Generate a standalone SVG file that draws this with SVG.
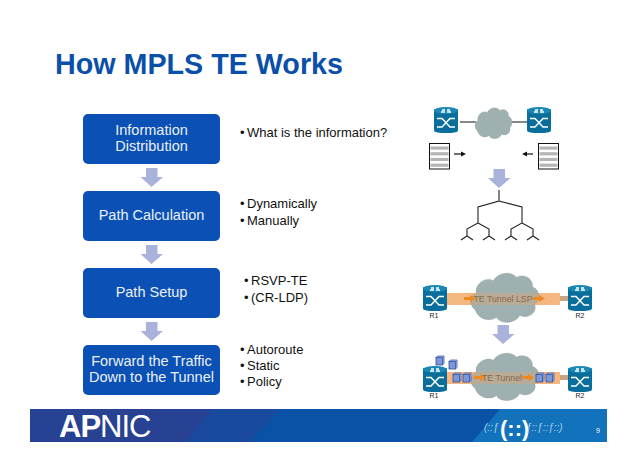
<svg xmlns="http://www.w3.org/2000/svg" width="638" height="451" viewBox="0 0 638 451">
<style>
text{font-family:"Liberation Sans",Arial,sans-serif}
.box{fill:#0b50b4}
.bt{fill:#fff;font-size:14.5px;text-anchor:middle;opacity:.92}
.bl{fill:#111;font-size:13px}
.cl{fill:#9fb0b0;stroke:#86989a;stroke-width:.7}
.ln{stroke:#111;stroke-width:1.2;fill:none}
.tr{stroke:#222;stroke-width:1.1;fill:none}
.tube{fill:#f3b77f}
.ov{fill:#e9a26a;opacity:.35}
.oa{fill:#ee8a22}
.tl{fill:#8a6a4a;font-size:8.8px;text-anchor:middle}
.rl{fill:#222;font-size:7px;text-anchor:middle}
.pk{fill:#7d97d8;stroke:#2f4f9f;stroke-width:.8}
</style>
<defs>
<g id="router">
<rect x="0" y="2" width="24" height="22" rx="1" fill="#0a6e9c"/>
<ellipse cx="12" cy="3.500" rx="12" ry="3.500" fill="#1a88b4"/>
<ellipse cx="12" cy="24" rx="12" ry="2" fill="#0a6e9c"/>
<path d="M3 11.500H8L16 20H21M3 20H8L16 11.500H21M8 3H11M13 5H17M7 5H11M13 3H16" fill="none" stroke="#fff" stroke-width="1.400"/>
</g>
<path id="cloud" d="M8 70C-4 62-2 44 10 40C6 22 28 8 42 16C52 0 76-2 86 10C100 2 118 12 116 28C130 32 132 52 120 60C126 76 106 88 92 80C84 96 56 98 48 84C34 94 12 86 8 70Z"/>
<path id="flow" fill="#a9b2da" d="M5.500 0H17V9H22.500L11 19L0 9H5.500Z"/>
<g id="table">
<rect width="20" height="25.500" fill="#fff" stroke="#111" stroke-width="1"/>
<rect x="1" y="3" width="18" height="3.200" fill="#b5b5b5"/>
<rect x="1" y="8.700" width="18" height="3.200" fill="#b5b5b5"/>
<rect x="1" y="14.400" width="18" height="3.200" fill="#b5b5b5"/>
<rect x="1" y="20.100" width="18" height="3.200" fill="#b5b5b5"/>
</g>
<g id="pkt">
<rect x="0" y="1.500" width="6.500" height="7.500" class="pk"/>
<path d="M0 1.500L1.500 0H8V7.500L6.500 9V1.500Z" fill="#a9bbea" stroke="#2f4f9f" stroke-width=".7"/>
</g>
</defs>

<text x="55" y="74" font-size="28.700" font-weight="bold" fill="#0b50a8" id="title">How MPLS TE Works</text>

<g id="connectors">
<use href="#flow" x="140.500" y="168"/>
<use href="#flow" x="140.500" y="245"/>
<use href="#flow" x="140.500" y="322"/>
<use href="#flow" x="488" y="169"/>
<use href="#flow" x="492" y="325"/>
</g>

<g id="n1"><rect class="box" x="83" y="114" width="137" height="50" rx="5"/><text class="bt" x="151.500" y="135">Information</text><text class="bt" x="151.500" y="151">Distribution</text></g>
<g id="n2"><rect class="box" x="83" y="191" width="137" height="50" rx="5"/><text class="bt" x="151.500" y="220">Path Calculation</text></g>
<g id="n3"><rect class="box" x="83" y="268" width="137" height="50" rx="5"/><text class="bt" x="151.500" y="297">Path Setup</text></g>
<g id="n4"><rect class="box" x="83" y="345" width="137" height="50" rx="5"/><text class="bt" x="151.500" y="366">Forward the Traffic</text><text class="bt" x="151.500" y="382">Down to the Tunnel</text></g>

<g id="l1"><text class="bl" x="240" y="137">•</text><text class="bl" x="247" y="137">What is the information?</text></g>
<g id="l2"><text class="bl" x="240" y="208">•</text><text class="bl" x="247" y="208">Dynamically</text><text class="bl" x="240" y="225">•</text><text class="bl" x="247" y="225">Manually</text></g>
<g id="l3"><text class="bl" x="244" y="285">•</text><text class="bl" x="251" y="285">RSVP-TE</text><text class="bl" x="244" y="302">•</text><text class="bl" x="251" y="302">(CR-LDP)</text></g>
<g id="l4"><text class="bl" x="240" y="354">•</text><text class="bl" x="247" y="354">Autoroute</text><text class="bl" x="240" y="370">•</text><text class="bl" x="247" y="370">Static</text><text class="bl" x="240" y="386">•</text><text class="bl" x="247" y="386">Policy</text></g>

<g id="net1">
<path class="ln" d="M460 122H476M511 122H528"/>
<use href="#cloud" class="cl" transform="translate(475 107) scale(.29 .34)"/>
<use href="#router" transform="translate(434 107)"/>
<use href="#router" transform="translate(527 107)"/>
<use href="#table" x="429.500" y="143.500"/>
<use href="#table" x="538.500" y="143.500"/>
<path d="M454 154H462" stroke="#111" stroke-width="1.200"/><path d="M466 154L461 151.500V156.500Z" fill="#111"/>
<path d="M525 154H533" stroke="#111" stroke-width="1.200"/><path d="M522 154L527 151.500V156.500Z" fill="#111"/>
</g>

<g id="tree">
<path class="tr" d="M499 190V201L478 207V223L467 229V236M478 223L489 229V236M499 201L522 207V223L511 229V236M522 223L533 229V236M461 240L467 236L473 240M483 240L489 236L495 240M505 240L511 236L517 240M527 240L533 236L539 240"/>
</g>

<g id="net2">
<rect class="tube" x="447" y="293" width="113" height="12"/>
<rect x="560" y="296" width="8" height="5" fill="#c9a67e"/>
<use href="#cloud" class="cl" transform="translate(471 272) scale(.53 .54)"/>
<rect class="ov" x="472" y="293" width="66" height="12"/>
<path class="oa" d="M464 297H470V295L476 298.500L470 302V300H464Z"/>
<path class="oa" d="M533 297H539V295L545 298.500L539 302V300H533Z"/>
<text class="tl" x="503" y="302">TE Tunnel LSP</text>
<use href="#router" transform="translate(423 285)"/>
<use href="#router" transform="translate(568 285)"/>
<text class="rl" x="434" y="318">R1</text>
<text class="rl" x="580" y="318">R2</text>
</g>

<g id="net3">
<rect class="tube" x="447" y="372" width="113" height="12"/>
<rect x="560" y="375" width="8" height="5" fill="#c9a67e"/>
<use href="#cloud" class="cl" transform="translate(471 352) scale(.53 .52)"/>
<rect class="ov" x="472" y="372" width="66" height="12"/>
<path class="oa" d="M474 376H480V374L486 377.500L480 381V379H474Z"/>
<path class="oa" d="M522 376H528V374L534 377.500L528 381V379H522Z"/>
<text class="tl" x="502" y="381">TE Tunnel</text>
<use href="#pkt" x="453" y="373"/>
<use href="#pkt" x="463" y="373"/>
<use href="#pkt" x="536" y="373"/>
<use href="#pkt" x="546" y="373"/>
<use href="#pkt" transform="translate(436 356)"/>
<use href="#pkt" transform="translate(449 360)"/>
<use href="#router" transform="translate(423 366)"/>
<use href="#router" transform="translate(568 366)"/>
<text class="rl" x="434" y="398">R1</text>
<text class="rl" x="580" y="398">R2</text>
</g>

<g id="footer">
<rect x="30" y="409" width="577" height="33" fill="#0a52a6"/>
<path d="M30 409H212L186 442H30Z" fill="#274193"/>
<path d="M212 409H280L250 442H186Z" fill="#1a4aa0"/>
<path d="M472 442L500 409H607V442Z" fill="#1272bb"/>
<text x="59" y="437" font-size="31" font-weight="bold" fill="#fff" letter-spacing="-1">AP<tspan font-weight="normal">NIC</tspan></text>
<text x="484" y="431" font-size="10" font-style="italic" fill="#a9cbe8">(::ƒ</text>
<text x="500" y="436" font-size="22" font-weight="bold" fill="#fff">(::)</text>
<text x="526" y="431" font-size="10" font-style="italic" fill="#a9cbe8">ƒ::ƒ::ƒ::)</text>
<text x="596" y="433" font-size="7" fill="#fff">9</text>
</g>
</svg>
